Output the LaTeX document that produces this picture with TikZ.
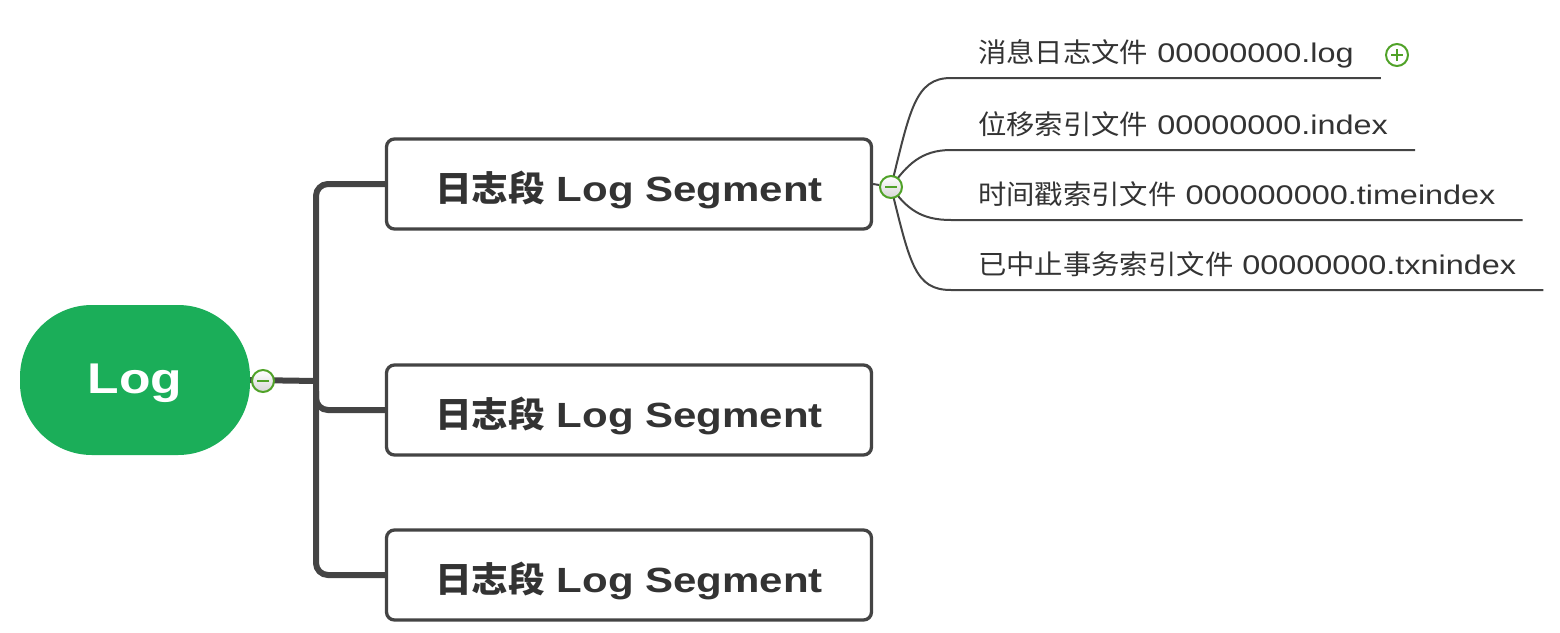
\documentclass[tikz,border=0pt]{standalone}
\usepackage{fontspec}
\setmainfont{Liberation Sans}[FakeStretch=1.2]
\newfontfamily\cjk{Noto Sans CJK SC}[FakeStretch=1.05]
\newcommand{\zh}[1]{{\cjk #1}}
\definecolor{mapgreen}{RGB}{27,174,89}
\definecolor{knobgreen}{RGB}{80,162,40}
\definecolor{linegray}{RGB}{68,68,68}
\definecolor{textgray}{RGB}{51,51,51}
\pgfdeclarelayer{background}
\pgfsetlayers{background,main}

\tikzset{
  root/.style={fill=mapgreen, rounded corners=72pt, minimum width=230pt, minimum height=150pt,
    text height=30pt, text depth=4pt, text=white, font=\fontsize{43}{50}\selectfont\bfseries},
  segment/.style={draw=linegray, line width=3.3pt, rounded corners=8pt, fill=white,
    minimum width=485pt, minimum height=90pt, text height=37pt, text depth=2pt,
    text=textgray, font=\fontsize{35}{42}\selectfont\bfseries},
  leaf/.style={anchor=south west, inner xsep=27pt, inner ysep=15pt, text depth=0pt,
    text=textgray, font=\fontsize{27}{32}\selectfont},
  knob/.style={circle, draw=knobgreen, line width=2pt, top color=white, bottom color=black!16,
    minimum size=22pt, inner sep=0pt},
  minus/.style={knob, path picture={
    \draw[knobgreen, line width=2.4pt] ([xshift=-6pt]path picture bounding box.center)
      -- ([xshift=6pt]path picture bounding box.center);}},
  plus/.style={knob, top color=white, bottom color=white, path picture={
    \draw[knobgreen, line width=2.4pt] ([xshift=-6pt]path picture bounding box.center)
      -- ([xshift=6pt]path picture bounding box.center)
      ([yshift=-6pt]path picture bounding box.center)
      -- ([yshift=6pt]path picture bounding box.center);}},
  trunk/.style={draw=linegray, line width=6pt, rounded corners=12pt},
  twig/.style={draw=linegray, line width=2pt},
}

\begin{document}
\begin{tikzpicture}[x=1pt, y=-1pt]
  \useasboundingbox (0,0) rectangle (1560,632);

  % root and segments
  \node[root] (log) at (135,380) {Log};
  \node[minus] (k0) at (263,381) {};
  \node[segment] (seg1) at (629,184) {\zh{日志段} Log Segment};
  \node[segment] (seg2) at (629,410) {\zh{日志段} Log Segment};
  \node[segment] (seg3) at (629,575) {\zh{日志段} Log Segment};
  \node[minus] (k1) at (891,187) {};

  % files of one segment
  \node[leaf] (f1) at (951,78) {\zh{消息日志文件} 00000000.log};
  \node[leaf] (f2) at (951,150) {\zh{位移索引文件} 00000000.index};
  \node[leaf] (f3) at (951,220) {\zh{时间戳索引文件} 000000000.timeindex};
  \node[leaf] (f4) at (951,290) {\zh{已中止事务索引文件} 00000000.txnindex};
  \node[plus] (k2) at (1397,55) {};

  \begin{pgfonlayer}{background}
    \coordinate (fork) at (316,381);
    \draw[trunk] (log.east) -- (fork);
    \draw[trunk] (seg1.west) -| (fork) |- (seg3.west);
    \draw[trunk] ([yshift=-10pt]fork) |- (seg2.west);
    \draw[twig] (seg1.east) -- (k1);

    \draw[twig] (k1.center) .. controls +(19,-77) and +(-36,0) .. (f1.south west) -- (f1.south east);
    \draw[twig] (k1.center) .. controls +(16,-22) and +(-30,0) .. (f2.south west) -- (f2.south east);
    \draw[twig] (k1.center) .. controls +(16,22) and +(-30,0) .. (f3.south west) -- (f3.south east);
    \draw[twig] (k1.center) .. controls +(19,77) and +(-36,0) .. (f4.south west) -- (f4.south east);
  \end{pgfonlayer}
\end{tikzpicture}
\end{document}
